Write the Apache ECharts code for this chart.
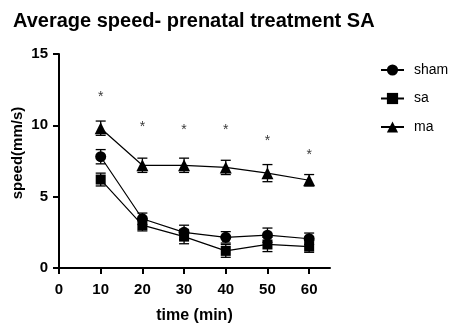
<!DOCTYPE html>
<html>
<head>
<meta charset="utf-8">
<script src="https://cdn.jsdelivr.net/npm/echarts@6/dist/echarts.min.js"></script>
<style>
  html, body { margin: 0; padding: 0; background: #fff; }
  #chart { width: 452px; height: 325px; }
</style>
</head>
<body>
<div id="chart"></div>
<script>
// Time points (min)
const times = [10, 20, 30, 40, 50, 60];
// Mean speed (mm/s) per group
const sham = [7.8, 3.45, 2.5, 2.15, 2.3, 2.05];
const sa   = [6.2, 3.0, 2.2, 1.2, 1.65, 1.5];
const ma   = [9.8, 7.2, 7.2, 7.05, 6.65, 6.15];
// Error (SEM) per group
const shamErr = [0.5, 0.4, 0.5, 0.4, 0.5, 0.4];
const saErr   = [0.45, 0.4, 0.5, 0.45, 0.5, 0.4];
const maErr   = [0.5, 0.5, 0.5, 0.5, 0.6, 0.4];
// Significance markers: height of each asterisk
const starY = [12.2, 10.1, 9.9, 9.9, 9.1, 8.1];
// Axis ticks
const xTicks = [0, 10, 20, 30, 40, 50, 60];
const yTicks = [0, 5, 10, 15];

const FONT = '"Liberation Sans", Arial, sans-serif';

function pairs(xs, ys) { return xs.map((x, i) => [x, ys[i]]); }
function errData(xs, ys, es) { return xs.map((x, i) => [x, ys[i] - es[i], ys[i] + es[i]]); }

function errorBarSeries(name, xs, ys, es) {
  return {
    name: name + '-err',
    type: 'custom',
    z: 1,
    silent: true,
    data: errData(xs, ys, es),
    renderItem: function (params, api) {
      const x = api.value(0);
      const lo = api.coord([x, api.value(1)]);
      const hi = api.coord([x, api.value(2)]);
      const half = 5;
      const style = { stroke: '#000', lineWidth: 1.3 };
      return {
        type: 'group',
        children: [
          { type: 'line', shape: { x1: lo[0], y1: lo[1], x2: hi[0], y2: hi[1] }, style },
          { type: 'line', shape: { x1: hi[0] - half, y1: hi[1], x2: hi[0] + half, y2: hi[1] }, style },
          { type: 'line', shape: { x1: lo[0] - half, y1: lo[1], x2: lo[0] + half, y2: lo[1] }, style }
        ]
      };
    }
  };
}

function lineSeries(name, symbol, size, ys) {
  return {
    name: name,
    type: 'line',
    z: 3,
    data: pairs(times, ys),
    symbol: symbol,
    symbolSize: size,
    showAllSymbol: true,
    lineStyle: { color: '#000', width: 1.2 },
    itemStyle: { color: '#000', borderWidth: 0 },
    emphasis: { disabled: true }
  };
}

const chart = echarts.init(document.getElementById('chart'), null, { renderer: 'canvas' });

chart.setOption({
  animation: false,
  backgroundColor: '#fff',
  title: {
    text: 'Average speed- prenatal treatment SA',
    left: 8,
    top: 6,
    textStyle: { fontFamily: FONT, fontWeight: 'bold', fontSize: 20, color: '#000' }
  },
  legend: {
    data: ['sham', 'sa', 'ma'],
    orient: 'vertical',
    left: 375,
    top: 58,
    itemGap: 14.5,
    itemWidth: 23,
    itemHeight: 14,
    textStyle: { fontFamily: FONT, fontSize: 14, color: '#000', padding: [0, 0, 0, 5] }
  },
  grid: { left: 59, right: 122, top: 54, bottom: 57, containLabel: false, outerBoundsMode: 'none' },
  xAxis: {
    type: 'value',
    min: 0,
    max: 65,
    name: 'time (min)',
    nameLocation: 'middle',
    nameGap: 40,
    nameMoveOverlap: false,
    nameTextStyle: { fontFamily: FONT, fontWeight: 'bold', fontSize: 16, color: '#000' },
    axisLine: { onZero: false, lineStyle: { color: '#000', width: 2 } },
    axisTick: { show: true, length: 6, lineStyle: { color: '#000', width: 2 }, customValues: xTicks },
    axisLabel: { customValues: xTicks, fontFamily: FONT, fontWeight: 'bold', fontSize: 15, color: '#000', margin: 14 },
    splitLine: { show: false }
  },
  yAxis: {
    type: 'value',
    min: 0,
    max: 15,
    interval: 5,
    name: 'speed(mm/s)',
    nameLocation: 'middle',
    nameGap: 34,
    nameMoveOverlap: false,
    nameTextStyle: { fontFamily: FONT, fontWeight: 'bold', fontSize: 15, color: '#000', padding: [0, 0, 0, 16] },
    axisLine: { show: true, lineStyle: { color: '#000', width: 2 } },
    axisTick: { show: true, length: 6, lineStyle: { color: '#000', width: 2 }, customValues: yTicks },
    axisLabel: { customValues: yTicks, fontFamily: FONT, fontWeight: 'bold', fontSize: 15, color: '#000', margin: 11 },
    splitLine: { show: false }
  },
  series: [
    errorBarSeries('sham', times, sham, shamErr),
    errorBarSeries('sa', times, sa, saErr),
    errorBarSeries('ma', times, ma, maErr),
    lineSeries('sham', 'circle', 11, sham),
    lineSeries('sa', 'rect', 10, sa),
    lineSeries('ma', 'triangle', 12, ma),
    {
      name: 'significance',
      type: 'scatter',
      symbolSize: 0,
      silent: true,
      data: pairs(times, starY),
      label: {
        show: true,
        position: 'inside',
        offset: [0, 3],
        formatter: '*',
        fontFamily: FONT,
        fontSize: 14,
        color: '#000'
      }
    }
  ]
});
</script>
</body>
</html>
